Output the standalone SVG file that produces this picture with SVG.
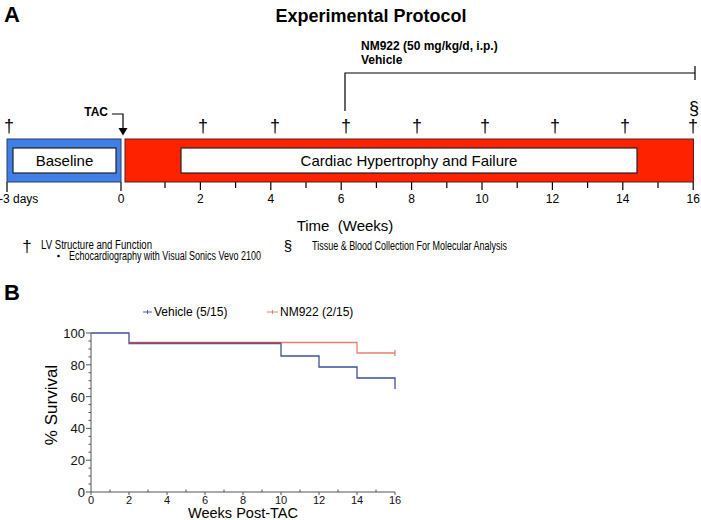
<svg xmlns="http://www.w3.org/2000/svg" width="701" height="520" viewBox="0 0 701 520">
<style>
text{font-family:"Liberation Sans",Arial,sans-serif;fill:#000}
.b{font-weight:bold}
.dg{font-size:18px;text-anchor:middle}
.tl{font-size:12px;text-anchor:middle}
.ln{stroke:#000;stroke-width:1.2;fill:none}
.ax{stroke:#555;stroke-width:1;fill:none}
.yl{font-size:13px;text-anchor:end;fill:#111}
.xl{font-size:11px;text-anchor:middle;fill:#111}
</style>
<rect width="701" height="520" fill="#fff"/>
<text x="4" y="22" class="b" font-size="22">A</text>
<text x="371" y="22" class="b" font-size="18" text-anchor="middle">Experimental Protocol</text>
<text x="361" y="50" class="b" font-size="12">NM922 (50 mg/kg/d, i.p.)</text>
<text x="361" y="64" class="b" font-size="12">Vehicle</text>
<g id="connectors">
<path class="ln" d="M345,111 V73 H695"/>
<path class="ln" d="M695,66 V80"/>
<path class="ln" d="M112,114 H123 V129"/>
<polygon points="118.5,128 127.5,128 123,135.5" fill="#000"/>
<g stroke="#000" stroke-width="1.2">
<path d="M7,182 V192 M121,182 V191"/>
<path d="M165,182 V188 M200.4,182 V190 M235.6,182 V188 M270.8,182 V190 M306,182 V188 M341.2,182 V190 M376.4,182 V188 M411.6,182 V190 M446.8,182 V188 M482,182 V190 M517.2,182 V188 M552.4,182 V190 M587.6,182 V188 M622.8,182 V190 M658,182 V188 M693.2,182 V190"/>
</g>
</g>
<text x="108" y="116" class="b" font-size="12" text-anchor="end">TAC</text>
<g id="markers">
<text x="9" y="132" class="dg">†</text>
<text x="203" y="132" class="dg">†</text>
<text x="275" y="132" class="dg">†</text>
<text x="346" y="132" class="dg">†</text>
<text x="417" y="132" class="dg">†</text>
<text x="485" y="132" class="dg">†</text>
<text x="555" y="132" class="dg">†</text>
<text x="625" y="132" class="dg">†</text>
<text x="693" y="132" class="dg">†</text>
<text x="694" y="114" font-size="18" text-anchor="middle">§</text>
</g>
<g id="baseline">
<rect x="7" y="139" width="114" height="43" fill="#3f7fe6" stroke="#2b3f66" stroke-width="1"/>
<rect x="13" y="148" width="103" height="25" fill="#fff" stroke="#222" stroke-width="1.2"/>
<text x="64.5" y="166" font-size="15" text-anchor="middle">Baseline</text>
</g>
<g id="hypertrophy">
<rect x="125" y="139" width="568.5" height="43" fill="#ff2200" stroke="#552020" stroke-width="1"/>
<rect x="181" y="148" width="456" height="25" fill="#fff" stroke="#222" stroke-width="1.2"/>
<text x="409" y="166" font-size="15" text-anchor="middle">Cardiac Hypertrophy and Failure</text>
</g>
<g id="time-labels">
<text x="-1" y="203" font-size="12">-3 days</text>
<text x="121" y="203" class="tl">0</text>
<text x="200.4" y="203" class="tl">2</text>
<text x="270.8" y="203" class="tl">4</text>
<text x="341.2" y="203" class="tl">6</text>
<text x="411.6" y="203" class="tl">8</text>
<text x="482" y="203" class="tl">10</text>
<text x="552.4" y="203" class="tl">12</text>
<text x="622.8" y="203" class="tl">14</text>
<text x="693.2" y="203" class="tl">16</text>
<text x="345" y="231" font-size="15" text-anchor="middle" xml:space="preserve">Time  (Weeks)</text>
</g>
<g id="legend-a">
<text x="27" y="252" font-size="17" text-anchor="middle">†</text>
<text x="41" y="248.5" font-size="12" textLength="111" lengthAdjust="spacingAndGlyphs">LV Structure and Function</text>
<circle cx="58.5" cy="256" r="1.3" fill="#000"/>
<text x="69" y="259.5" font-size="12" textLength="192" lengthAdjust="spacingAndGlyphs">Echocardiography with Visual Sonics Vevo 2100</text>
<text x="288" y="251" font-size="15" text-anchor="middle">§</text>
<text x="312" y="250" font-size="12" textLength="195" lengthAdjust="spacingAndGlyphs">Tissue &amp; Blood Collection For Molecular Analysis</text>
</g>
<text x="4" y="300" class="b" font-size="22">B</text>
<g id="legend-b">
<path d="M143,312 H152 M147.5,310 V314" stroke="#4a5aa8" stroke-width="1"/>
<text x="154" y="316" font-size="12" fill="#222">Vehicle (5/15)</text>
<path d="M267,312 H278 M272.5,310 V314" stroke="#e8806e" stroke-width="1"/>
<text x="280" y="316" font-size="12" fill="#222">NM922 (2/15)</text>
</g>
<g id="axes">
<path class="ax" d="M91,333 V492 H395"/>
<path class="ax" d="M86,333 H91 M86,364.8 H91 M86,396.6 H91 M86,428.4 H91 M86,460.2 H91 M86,492 H91"/>
<path class="ax" d="M88.5,341 H91 M88.5,349 H91 M88.5,356.9 H91 M88.5,372.7 H91 M88.5,380.7 H91 M88.5,388.6 H91 M88.5,404.6 H91 M88.5,412.5 H91 M88.5,420.4 H91 M88.5,436.4 H91 M88.5,444.3 H91 M88.5,452.2 H91 M88.5,468.1 H91 M88.5,476 H91 M88.5,484 H91"/>
<path class="ax" d="M91,492 V495 M129,492 V495 M167,492 V495 M205,492 V495 M243,492 V495 M281,492 V495 M319,492 V495 M357,492 V495 M395,492 V495 M110,492 V489.5 M148,492 V489.5 M186,492 V489.5 M224,492 V489.5 M262,492 V489.5 M300,492 V489.5 M338,492 V489.5 M376,492 V489.5"/>
<text x="85" y="338" class="yl">100</text>
<text x="85" y="369.8" class="yl">80</text>
<text x="85" y="401.6" class="yl">60</text>
<text x="85" y="433.4" class="yl">40</text>
<text x="85" y="465.2" class="yl">20</text>
<text x="85" y="497" class="yl">0</text>
<text x="91" y="503.5" class="xl">0</text>
<text x="129" y="503.5" class="xl">2</text>
<text x="167" y="503.5" class="xl">4</text>
<text x="205" y="503.5" class="xl">6</text>
<text x="243" y="503.5" class="xl">8</text>
<text x="281" y="503.5" class="xl">10</text>
<text x="319" y="503.5" class="xl">12</text>
<text x="357" y="503.5" class="xl">14</text>
<text x="395" y="503.5" class="xl">16</text>
<text x="57" y="405" font-size="17" text-anchor="middle" transform="rotate(-90 57 405)" fill="#111">% Survival</text>
<text x="188" y="518" font-size="15.5" textLength="110" lengthAdjust="spacingAndGlyphs" fill="#111">Weeks Post-TAC</text>
</g>
<g id="curves">
<path d="M91,333 H129 V343.5 H281 V356 H319 V367 H357 V378 H395 V389" stroke="#3f4f9c" stroke-width="1.3" fill="none"/>
<path d="M129,342.5 H357 V353 H395 M395,350 V356" stroke="#e8806e" stroke-width="1.3" fill="none"/>
<path d="M129,342.6 H281" stroke="#8a2040" stroke-width="1" fill="none" opacity="0.6"/>
</g>
</svg>
